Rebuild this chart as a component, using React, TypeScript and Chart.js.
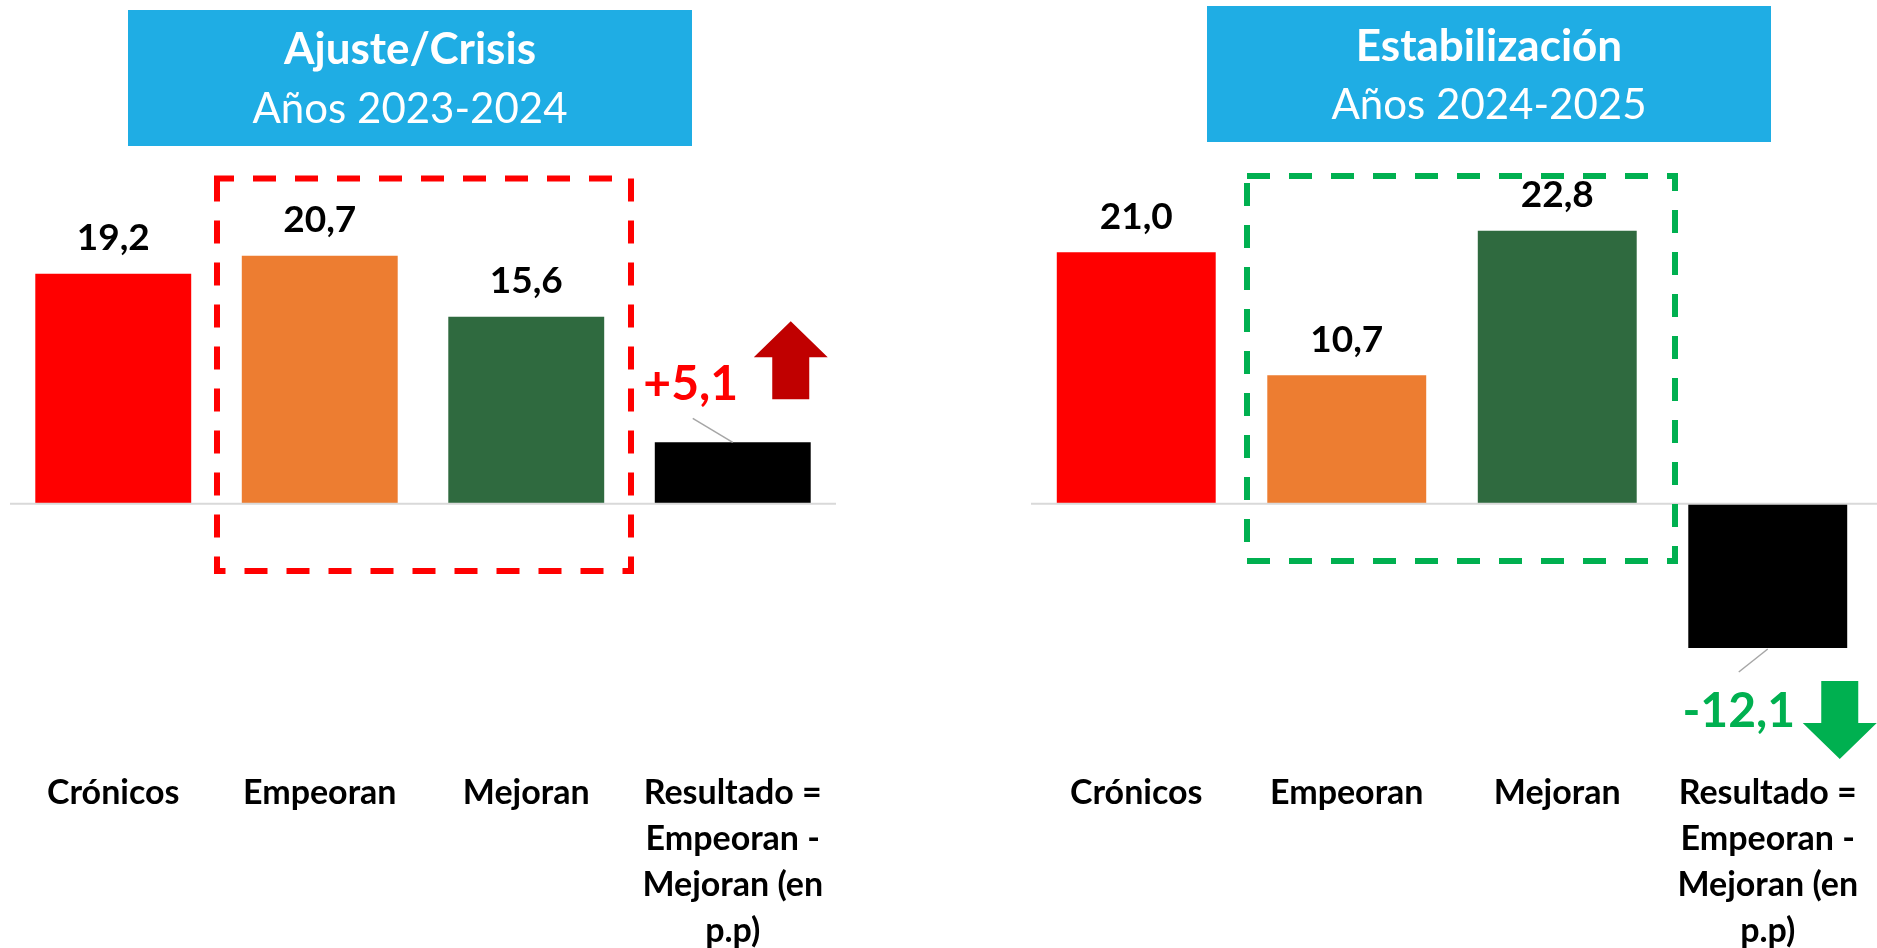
import React, { useEffect, useRef } from 'react';
import { Chart, registerables } from 'chart.js';

Chart.register(...registerables);

// ---------- data ----------
const categories: (string | string[])[] = [
  'Crónicos',
  'Empeoran',
  'Mejoran',
  ['Resultado =', 'Empeoran -', 'Mejoran (en', 'p.p)'],
];
const ajusteValues = [19.2, 20.7, 15.6, 5.1];
const estabValues = [21.0, 10.7, 22.8, -12.1];
const ajusteTitle = ['Ajuste/Crisis', 'Años 2023-2024'];
const estabTitle = ['Estabilización', 'Años 2024-2025'];

// ---------- styles ----------
const barColors = ['#FF0000', '#ED7D31', '#2F6A3F', '#000000'];
const FONT = 'Lato, "Open Sans", sans-serif';
const Y_MIN = -12.6;
const Y_MAX = 42;
const TITLE_BG = '#1FADE4';

const fmt = (v: number) => v.toFixed(1).replace('.', ',');
const fmtSigned = (v: number) => (v > 0 ? '+' : '') + fmt(v);

type Panel = {
  values: number[];
  title: string[];
  left: number;
  width: number;
  padLeft: number;
  padRight: number;
  lineToEdge: boolean;
  titleBox: { x: number; y: number; w: number; h: number; b1: number; b2: number };
  dashBox: { x: number; y: number; w: number; h: number; color: string; ccw: boolean };
  resultColor: string;
  arrowColor: string;
};

const panels: Panel[] = [
  {
    values: ajusteValues,
    title: ajusteTitle,
    left: 0,
    width: 940,
    padLeft: 10,
    padRight: 104,
    lineToEdge: false,
    titleBox: { x: 128, y: 10, w: 564, h: 136, b1: 64, b2: 123 },
    dashBox: { x: 217, y: 178.5, w: 414, h: 392.5, color: '#FF0000', ccw: true },
    resultColor: '#FF0000',
    arrowColor: '#C00000',
  },
  {
    values: estabValues,
    title: estabTitle,
    left: 940,
    width: 937,
    padLeft: 91,
    padRight: 4,
    lineToEdge: true,
    titleBox: { x: 267, y: 6, w: 564, h: 136, b1: 61, b2: 119 },
    dashBox: { x: 307, y: 176, w: 428, h: 385, color: '#00B050', ccw: false },
    resultColor: '#00B050',
    arrowColor: '#00B050',
  },
];

function drawArrow(
  ctx: CanvasRenderingContext2D,
  cx: number,
  yStart: number,
  yHeadBase: number,
  yTip: number,
  headHalf: number,
  shaftHalf: number,
  color: string
) {
  ctx.save();
  ctx.fillStyle = color;
  ctx.beginPath();
  ctx.moveTo(cx - shaftHalf, yStart);
  ctx.lineTo(cx - shaftHalf, yHeadBase);
  ctx.lineTo(cx - headHalf, yHeadBase);
  ctx.lineTo(cx, yTip);
  ctx.lineTo(cx + headHalf, yHeadBase);
  ctx.lineTo(cx + shaftHalf, yHeadBase);
  ctx.lineTo(cx + shaftHalf, yStart);
  ctx.closePath();
  ctx.fill();
  ctx.restore();
}

function makePlugin(p: Panel) {
  return {
    id: 'decor',
    afterDraw(chart: any) {
      const ctx: CanvasRenderingContext2D = chart.ctx;
      const area = chart.chartArea;
      const yScale = chart.scales.y;
      const meta = chart.getDatasetMeta(0);

      // zero line
      const y0 = yScale.getPixelForValue(0);
      ctx.save();
      ctx.strokeStyle = '#D9D9D9';
      ctx.lineWidth = 2;
      ctx.beginPath();
      ctx.moveTo(area.left, y0 + 0.5);
      ctx.lineTo(p.lineToEdge ? chart.width : area.right, y0 + 0.5);
      ctx.stroke();
      ctx.restore();

      // title box
      const tb = p.titleBox;
      ctx.save();
      ctx.fillStyle = TITLE_BG;
      ctx.fillRect(tb.x, tb.y, tb.w, tb.h);
      ctx.fillStyle = '#FFFFFF';
      ctx.textAlign = 'center';
      ctx.textBaseline = 'alphabetic';
      ctx.font = `bold 44px ${FONT}`;
      ctx.fillText(p.title[0], tb.x + tb.w / 2, tb.b1);
      ctx.font = `42px ${FONT}`;
      ctx.fillText(p.title[1], tb.x + tb.w / 2, tb.b2);
      ctx.restore();

      // dashed box
      const db = p.dashBox;
      ctx.save();
      ctx.strokeStyle = db.color;
      ctx.lineWidth = 6;
      ctx.lineJoin = 'miter';
      ctx.setLineDash([23, 19]);
      ctx.beginPath();
      ctx.moveTo(db.x, db.y);
      if (db.ccw) {
        ctx.lineTo(db.x, db.y + db.h);
        ctx.lineTo(db.x + db.w, db.y + db.h);
        ctx.lineTo(db.x + db.w, db.y);
      } else {
        ctx.lineTo(db.x + db.w, db.y);
        ctx.lineTo(db.x + db.w, db.y + db.h);
        ctx.lineTo(db.x, db.y + db.h);
      }
      ctx.closePath();
      ctx.stroke();
      ctx.restore();

      // value labels
      ctx.save();
      ctx.textAlign = 'center';
      ctx.textBaseline = 'alphabetic';
      ctx.fillStyle = '#000000';
      ctx.font = `bold 37px ${FONT}`;
      for (let i = 0; i < 3; i++) {
        const el = meta.data[i];
        ctx.fillText(fmt(p.values[i]), el.x, el.y - 23.5);
      }
      ctx.restore();

      // result label, leader line, arrow
      const r = p.values[3];
      const el = meta.data[3];
      ctx.save();
      ctx.strokeStyle = '#A6A6A6';
      ctx.lineWidth = 1.5;
      ctx.beginPath();
      if (r >= 0) {
        ctx.moveTo(el.x - 40, el.y - 24);
        ctx.lineTo(el.x, el.y);
      } else {
        ctx.moveTo(el.x, el.y + 1);
        ctx.lineTo(el.x - 29, el.y + 24);
      }
      ctx.stroke();
      ctx.fillStyle = p.resultColor;
      ctx.textAlign = 'center';
      ctx.textBaseline = 'alphabetic';
      ctx.font = `bold 48px ${FONT}`;
      if (r >= 0) {
        ctx.fillText(fmtSigned(r), el.x - 42, el.y - 42);
      } else {
        ctx.fillText(fmtSigned(r), el.x - 29, el.y + 79);
      }
      ctx.restore();

      if (r >= 0) {
        drawArrow(ctx, el.x + 58, el.y - 43, el.y - 85, el.y - 121, 37, 18.5, p.arrowColor);
      } else {
        drawArrow(ctx, el.x + 72, el.y + 33, el.y + 75, el.y + 111, 37, 18.5, p.arrowColor);
      }
    },
  };
}

function PanelChart({ p }: { p: Panel }) {
  const ref = useRef<HTMLCanvasElement | null>(null);
  useEffect(() => {
    if (!ref.current) return;
    const chart = new Chart(ref.current, {
      type: 'bar',
      data: {
        labels: categories as any,
        datasets: [
          {
            data: p.values,
            backgroundColor: barColors,
            borderWidth: 0,
            barPercentage: 0.755,
            categoryPercentage: 1,
          },
        ],
      },
      options: {
        responsive: false,
        animation: false,
        layout: { padding: { left: p.padLeft, right: p.padRight, top: 1, bottom: 0 } },
        plugins: {
          legend: { display: false },
          tooltip: { enabled: false },
          title: { display: false },
        },
        scales: {
          x: {
            grid: { display: false, drawTicks: true, tickLength: 116 },
            border: { display: false },
            ticks: {
              color: '#000000',
              autoSkip: false,
              maxRotation: 0,
              minRotation: 0,
              padding: 0,
              font: { family: FONT, size: 34, weight: 'bold', lineHeight: '46px' } as any,
            },
            afterFit: (s: any) => {
              s.height = 294;
            },
          },
          y: { display: false, min: Y_MIN, max: Y_MAX },
        },
      },
      plugins: [makePlugin(p)],
    });
    return () => chart.destroy();
  }, [p]);
  return (
    <canvas
      ref={ref}
      width={p.width}
      height={948}
      style={{ position: 'absolute', left: p.left, top: 0, width: p.width, height: 948 }}
    />
  );
}

export default function App() {
  return (
    <div
      style={{
        position: 'absolute',
        left: 0,
        top: 0,
        width: 1877,
        height: 948,
        background: '#FFFFFF',
        overflow: 'hidden',
      }}
    >
      {panels.map((p, i) => (
        <PanelChart key={i} p={p} />
      ))}
    </div>
  );
}
